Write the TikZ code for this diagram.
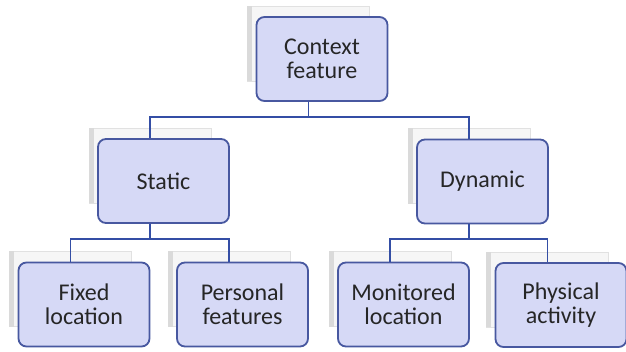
\documentclass[tikz,border=0pt]{standalone}
\usepackage{fontspec}
\setmainfont{Carlito}
\definecolor{boxfill}{RGB}{214,217,246}
\definecolor{boxline}{RGB}{72,88,160}
\definecolor{connline}{RGB}{52,78,165}
\definecolor{txt}{RGB}{38,38,38}
\definecolor{shfill}{RGB}{246,246,246}
\definecolor{shline}{RGB}{225,225,225}
\definecolor{shside}{RGB}{218,218,218}
\tikzset{
  mainbox/.style={draw=boxline, line width=1.8pt, fill=boxfill, rounded corners=8pt,
    minimum width=131pt, minimum height=84pt, inner sep=0pt, align=center,
    text=txt, font=\fontsize{24}{24.5}\selectfont},
  shadowbox/.style={draw=shline, line width=0.8pt, fill=shfill,
    minimum width=122pt, minimum height=75pt, inner sep=0pt},
  conn/.style={draw=connline, line width=1.8pt}
}
\newcommand{\tbox}[4]{%
  \node[shadowbox] (#1s) at ($(#2,#3)+(-13.5,-15.5)$) {};
  \fill[shside] (#1s.north west) rectangle ($(#1s.south west)+(5,0)$);
  \node[mainbox] (#1) at (#2,#3) {#4};
}
\usetikzlibrary{calc}
\begin{document}
\begin{tikzpicture}[x=1pt,y=-1pt]
\useasboundingbox (0,0) rectangle (626,351);
\fill[white] (0,0) rectangle (626,351);
\tbox{ctx}{322}{59}{Context\\feature}
\tbox{sta}{163.5}{181}{Static}
\tbox{dyn}{482.5}{181.5}{Dynamic}
\tbox{fix}{84}{304.5}{Fixed\\location}
\tbox{per}{242.5}{304.5}{Personal\\features}
\tbox{mon}{403.5}{304.5}{Monitored\\location}
\tbox{phy}{561}{305}{Physical\\activity}
\draw[conn] (ctxs.center |- ctx.south) -- ++(0,15) -| (stas.center |- sta.north);
\draw[conn] (ctxs.center |- ctx.south) -- ++(0,15) -| (dyns.center |- dyn.north);
\draw[conn] (stas.center |- sta.south) -- ++(0,15) -| (fixs.center |- fix.north);
\draw[conn] (stas.center |- sta.south) -- ++(0,15) -| (pers.center |- per.north);
\draw[conn] (dyns.center |- dyn.south) -- ++(0,14.5) -| (mons.center |- mon.north);
\draw[conn] (dyns.center |- dyn.south) -- ++(0,14.5) -| (phys.center |- phy.north);
\end{tikzpicture}
\end{document}
